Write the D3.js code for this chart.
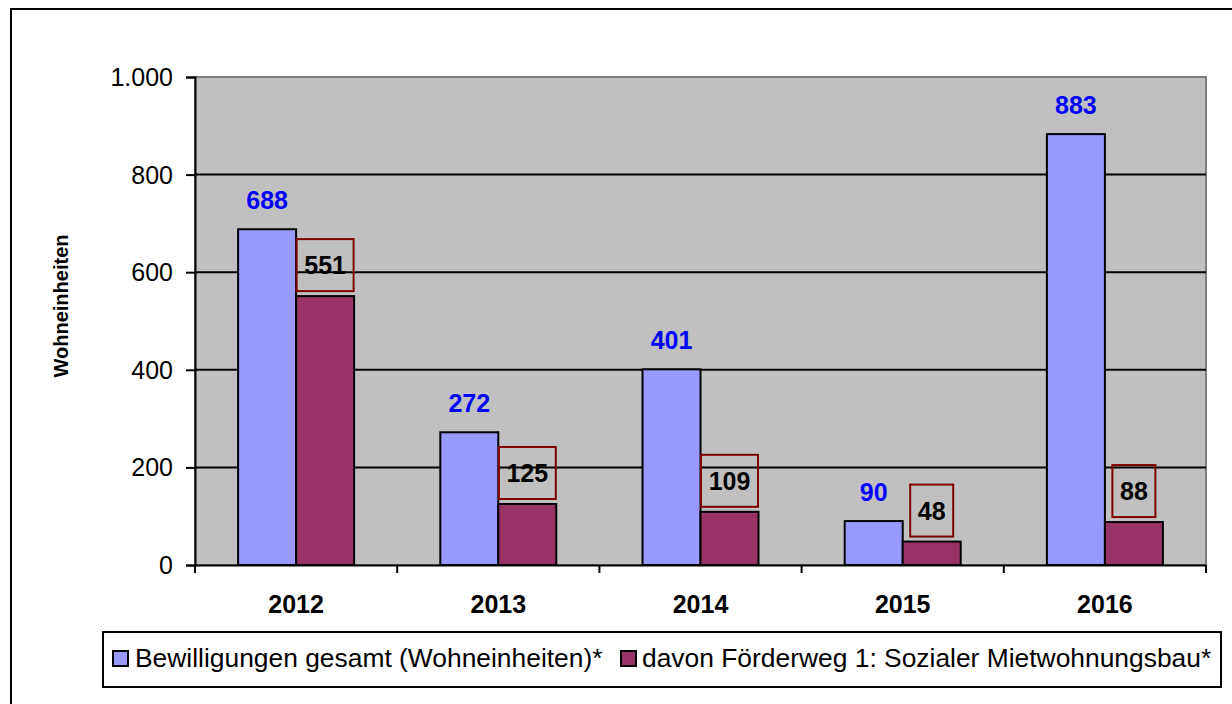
<!DOCTYPE html>
<html>
<head>
<meta charset="utf-8">
<script src="https://cdn.jsdelivr.net/npm/d3@7"></script>
<style>
  html, body { margin: 0; padding: 0; background: #fff; }
  svg { display: block; font-family: "Liberation Sans", Arial, sans-serif; }
</style>
</head>
<body>
<div id="viz"></div>
<script>
// data
const years = ['2012', '2013', '2014', '2015', '2016'];
const totalUnits = [688, 272, 401, 90, 883];
const socialUnits = [551, 125, 109, 48, 88];
const yTicks = [0, 200, 400, 600, 800, 1000];
const seriesNames = [
  'Bewilligungen gesamt (Wohneinheiten)*',
  'davon Förderweg 1: Sozialer Mietwohnungsbau*',
];
const seriesColors = ['#9999FF', '#993366'];

const width = 1232;
const height = 704;
const plot = { left: 195, top: 77, right: 1206, bottom: 565 };
const fontFamily = '"Liberation Sans", Arial, sans-serif';

const svg = d3
  .select('#viz')
  .append('svg')
  .attr('width', width)
  .attr('height', height);

// outer frame (runs off the right and bottom edges)
svg
  .append('rect')
  .attr('x', 11)
  .attr('y', 9)
  .attr('width', 1240)
  .attr('height', 720)
  .attr('fill', 'none')
  .attr('stroke', '#000')
  .attr('stroke-width', 2);

const x = d3
  .scaleBand()
  .domain(years)
  .range([plot.left, plot.right])
  .paddingInner(0)
  .paddingOuter(0);

const y = d3.scaleLinear().domain([0, 1000]).range([plot.bottom, plot.top]);

// plot background
svg
  .append('rect')
  .attr('x', plot.left)
  .attr('y', plot.top)
  .attr('width', plot.right - plot.left)
  .attr('height', plot.bottom - plot.top)
  .attr('fill', '#C0C0C0')
  .attr('stroke', '#808080')
  .attr('stroke-width', 2);

// gridlines
svg
  .append('g')
  .selectAll('line')
  .data(yTicks.filter((d) => d > 0 && d < 1000))
  .enter()
  .append('line')
  .attr('x1', plot.left)
  .attr('x2', plot.right)
  .attr('y1', (d) => y(d))
  .attr('y2', (d) => y(d))
  .attr('stroke', '#000')
  .attr('stroke-width', 2);

// bars
const barW = 58;
const groups = svg
  .append('g')
  .selectAll('g')
  .data(years)
  .enter()
  .append('g');

groups
  .append('rect')
  .attr('x', (d) => x(d) + x.bandwidth() / 2 - barW)
  .attr('y', (d, i) => y(totalUnits[i]))
  .attr('width', barW)
  .attr('height', (d, i) => y(0) - y(totalUnits[i]))
  .attr('fill', seriesColors[0])
  .attr('stroke', '#000')
  .attr('stroke-width', 2);

groups
  .append('rect')
  .attr('x', (d) => x(d) + x.bandwidth() / 2)
  .attr('y', (d, i) => y(socialUnits[i]))
  .attr('width', barW)
  .attr('height', (d, i) => y(0) - y(socialUnits[i]))
  .attr('fill', seriesColors[1])
  .attr('stroke', '#000')
  .attr('stroke-width', 2);

// y axis
const yAxis = svg
  .append('g')
  .attr('transform', `translate(${plot.left},0)`)
  .call(
    d3
      .axisLeft(y)
      .tickValues(yTicks)
      .tickSize(9)
      .tickPadding(13)
      .tickFormat((d) => d3.format(',')(d).replace(',', '.'))
  );
yAxis.select('.domain').attr('stroke', '#000').attr('stroke-width', 2);
yAxis.selectAll('.tick line').attr('stroke', '#000').attr('stroke-width', 2);
yAxis
  .selectAll('.tick text')
  .attr('font-size', 25)
  .attr('font-family', fontFamily)
  .attr('fill', '#000')
  .attr('dy', '0.34em');

// x axis
const xAxis = svg
  .append('g')
  .attr('transform', `translate(0,${plot.bottom})`)
  .call(d3.axisBottom(x).tickSize(0).tickPadding(30));
xAxis.select('.domain').attr('stroke', '#000').attr('stroke-width', 2);
xAxis
  .selectAll('.tick text')
  .attr('font-size', 25)
  .attr('font-weight', 'bold')
  .attr('font-family', fontFamily)
  .attr('fill', '#000')
  .attr('y', 48)
  .attr('dy', 0);

// category separators
const sepX = years.map((d) => x(d)).concat([plot.right]);
svg
  .append('g')
  .selectAll('line')
  .data(sepX)
  .enter()
  .append('line')
  .attr('x1', (d) => d)
  .attr('x2', (d) => d)
  .attr('y1', plot.bottom)
  .attr('y2', plot.bottom + 8)
  .attr('stroke', '#000')
  .attr('stroke-width', 2);

// value labels for total series
groups
  .append('text')
  .attr('x', (d) => x(d) + x.bandwidth() / 2 - barW / 2)
  .attr('y', (d, i) => y(totalUnits[i]) - 20)
  .attr('text-anchor', 'middle')
  .attr('font-size', 25)
  .attr('font-weight', 'bold')
  .attr('fill', '#0000FF')
  .text((d, i) => totalUnits[i]);

// boxed value labels for social series
groups.each(function (d, i) {
  const g = d3.select(this);
  const cx = x(d) + x.bandwidth() / 2 + barW / 2;
  const label = String(socialUnits[i]);
  const boxW = label.length * 14 + 15;
  const boxH = 52;
  const boxBottom = y(socialUnits[i]) - 5;
  g.append('rect')
    .attr('x', cx - boxW / 2)
    .attr('y', boxBottom - boxH)
    .attr('width', boxW)
    .attr('height', boxH)
    .attr('fill', 'none')
    .attr('stroke', '#800000')
    .attr('stroke-width', 2);
  g.append('text')
    .attr('x', cx)
    .attr('y', boxBottom - boxH / 2 + 9)
    .attr('text-anchor', 'middle')
    .attr('font-size', 25)
    .attr('font-weight', 'bold')
    .attr('fill', '#000')
    .text(label);
});

// y axis title
svg
  .append('text')
  .attr('transform', 'translate(68,306) rotate(-90)')
  .attr('text-anchor', 'middle')
  .attr('font-size', 20)
  .attr('font-weight', 'bold')
  .text('Wohneinheiten');

// legend
const legend = svg.append('g');
legend
  .append('rect')
  .attr('x', 103)
  .attr('y', 632)
  .attr('width', 1118)
  .attr('height', 55)
  .attr('fill', '#fff')
  .attr('stroke', '#000')
  .attr('stroke-width', 2);

const legendItems = [
  { x: 113, textX: 135 },
  { x: 621, textX: 642 },
];
legendItems.forEach((item, i) => {
  legend
    .append('rect')
    .attr('x', item.x)
    .attr('y', 651)
    .attr('width', 15)
    .attr('height', 15)
    .attr('fill', seriesColors[i])
    .attr('stroke', '#000')
    .attr('stroke-width', 2);
  legend
    .append('text')
    .attr('x', item.textX)
    .attr('y', 667)
    .attr('font-size', 26.4)
    .attr('fill', '#000')
    .text(seriesNames[i]);
});
</script>
</body>
</html>
